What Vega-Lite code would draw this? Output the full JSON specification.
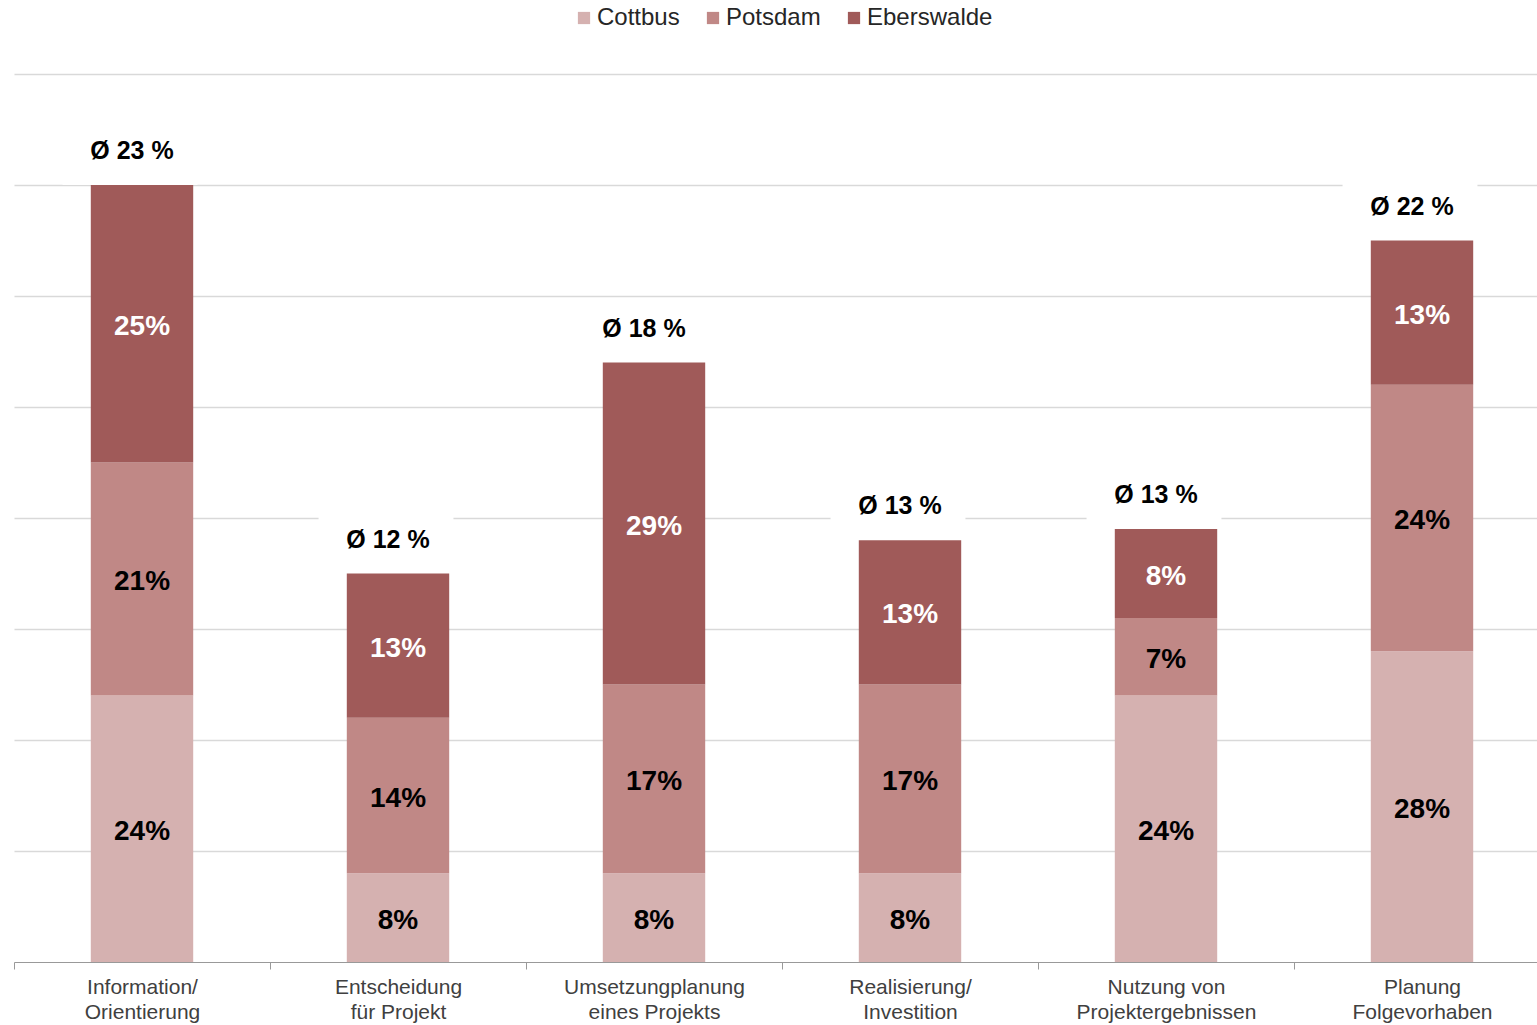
{
  "$schema": "https://vega.github.io/schema/vega-lite/v6.json",
  "width": 1536,
  "height": 888,
  "autosize": {"type": "none"},
  "padding": {"left": 14, "top": 74, "right": 0, "bottom": 63},
  "background": "white",
  "config": {"view": {"stroke": null}, "font": "Liberation Sans"},
  "datasets": {
    "shares": [
      {"cat": "Information/\nOrientierung", "series": "Cottbus", "v": 0.24},
      {"cat": "Information/\nOrientierung", "series": "Potsdam", "v": 0.21},
      {"cat": "Information/\nOrientierung", "series": "Eberswalde", "v": 0.25},
      {"cat": "Entscheidung\nfür Projekt", "series": "Cottbus", "v": 0.08},
      {"cat": "Entscheidung\nfür Projekt", "series": "Potsdam", "v": 0.14},
      {"cat": "Entscheidung\nfür Projekt", "series": "Eberswalde", "v": 0.13},
      {"cat": "Umsetzungplanung\neines Projekts", "series": "Cottbus", "v": 0.08},
      {"cat": "Umsetzungplanung\neines Projekts", "series": "Potsdam", "v": 0.17},
      {"cat": "Umsetzungplanung\neines Projekts", "series": "Eberswalde", "v": 0.29},
      {"cat": "Realisierung/\nInvestition", "series": "Cottbus", "v": 0.08},
      {"cat": "Realisierung/\nInvestition", "series": "Potsdam", "v": 0.17},
      {"cat": "Realisierung/\nInvestition", "series": "Eberswalde", "v": 0.13},
      {"cat": "Nutzung von\nProjektergebnissen", "series": "Cottbus", "v": 0.24},
      {"cat": "Nutzung von\nProjektergebnissen", "series": "Potsdam", "v": 0.07},
      {"cat": "Nutzung von\nProjektergebnissen", "series": "Eberswalde", "v": 0.08},
      {"cat": "Planung\nFolgevorhaben", "series": "Cottbus", "v": 0.28},
      {"cat": "Planung\nFolgevorhaben", "series": "Potsdam", "v": 0.24},
      {"cat": "Planung\nFolgevorhaben", "series": "Eberswalde", "v": 0.13}
    ],
    "avg": [
      {"cat": "Information/\nOrientierung", "total": 0.70, "label": "Ø 23 %"},
      {"cat": "Entscheidung\nfür Projekt", "total": 0.35, "label": "Ø 12 %"},
      {"cat": "Umsetzungplanung\neines Projekts", "total": 0.54, "label": "Ø 18 %"},
      {"cat": "Realisierung/\nInvestition", "total": 0.38, "label": "Ø 13 %"},
      {"cat": "Nutzung von\nProjektergebnissen", "total": 0.39, "label": "Ø 13 %"},
      {"cat": "Planung\nFolgevorhaben", "total": 0.65, "label": "Ø 22 %"}
    ]
  },
  "encoding": {
    "x": {
      "field": "cat",
      "type": "nominal",
      "title": null,
      "scale": {
        "domain": ["Information/\nOrientierung", "Entscheidung\nfür Projekt", "Umsetzungplanung\neines Projekts", "Realisierung/\nInvestition", "Nutzung von\nProjektergebnissen", "Planung\nFolgevorhaben"],
        "paddingInner": 0,
        "paddingOuter": 0
      },
      "axis": {
        "labelAngle": 0,
        "tickBand": "extent",
        "domainColor": "#999999",
        "tickColor": "#999999",
        "tickSize": 7,
        "labelPadding": 7,
        "labelFontSize": 21,
        "labelColor": "#404040",
        "labelLineHeight": 25,
        "labelLimit": 0,
        "labelFont": "Liberation Sans",
        "labelExpr": "split(datum.label, '\\n')"
      }
    }
  },
  "layer": [
    {
      "data": {"name": "avg"},
      "mark": {"type": "bar", "color": "white", "width": {"band": 0.527}, "xOffset": -12, "y2Offset": -60},
      "encoding": {
        "y": {"field": "total", "type": "quantitative", "title": null},
        "y2": {"field": "total"}
      }
    },
    {
      "data": {"name": "shares"},
      "transform": [
        {"window": [{"op": "row_number", "as": "rk"}], "groupby": ["cat"]},
        {"stack": "v", "groupby": ["cat"], "sort": [{"field": "rk", "order": "ascending"}], "as": ["v0", "v1"]}
      ],
      "mark": {"type": "bar", "width": {"band": 0.4}},
      "encoding": {
        "y": {
          "field": "v0",
          "type": "quantitative",
          "title": null,
          "scale": {"domain": [0, 0.8]},
          "axis": {
            "title": null,
            "labels": false,
            "ticks": false,
            "domain": false,
            "grid": true,
            "gridColor": "#d9d9d9",
            "gridWidth": 1.5,
            "values": [0.1, 0.2, 0.3, 0.4, 0.5, 0.6, 0.7, 0.8]
          }
        },
        "y2": {"field": "v1"},
        "color": {
          "field": "series",
          "type": "nominal",
          "scale": {"domain": ["Cottbus", "Potsdam", "Eberswalde"], "range": ["#d5b1b0", "#c08886", "#a05a59"]},
          "legend": {
            "orient": "none",
            "legendX": 558,
            "legendY": -68,
            "direction": "horizontal",
            "title": null,
            "symbolType": "square",
            "symbolSize": 150,
            "symbolStrokeWidth": 0,
            "labelFontSize": 24,
            "labelColor": "#262626",
            "labelFont": "Liberation Sans",
            "columnPadding": 21,
            "labelOffset": 1,
            "padding": 0
          }
        }
      }
    },
    {
      "data": {"name": "shares"},
      "transform": [
        {"window": [{"op": "row_number", "as": "rk"}], "groupby": ["cat"]},
        {"stack": "v", "groupby": ["cat"], "sort": [{"field": "rk", "order": "ascending"}], "as": ["v0", "v1"]},
        {"fold": ["v0", "v1"], "as": ["edge", "pos"]},
        {"aggregate": [{"op": "mean", "field": "pos", "as": "mid"}], "groupby": ["cat", "series", "v"]}
      ],
      "mark": {"type": "text", "fontSize": 28, "fontWeight": "bold", "font": "Liberation Sans", "baseline": "middle", "dy": 3},
      "encoding": {
        "y": {"field": "mid", "type": "quantitative", "title": null},
        "text": {"field": "v", "type": "quantitative", "format": ".0%"},
        "color": {"condition": {"test": "datum.series === 'Eberswalde'", "value": "white"}, "value": "black"}
      }
    },
    {
      "data": {"name": "avg"},
      "mark": {"type": "text", "fontSize": 25, "fontWeight": "bold", "font": "Liberation Sans", "baseline": "middle", "dx": -10, "dy": -34, "color": "black"},
      "encoding": {
        "y": {"field": "total", "type": "quantitative", "title": null},
        "text": {"field": "label"}
      }
    }
  ]
}
